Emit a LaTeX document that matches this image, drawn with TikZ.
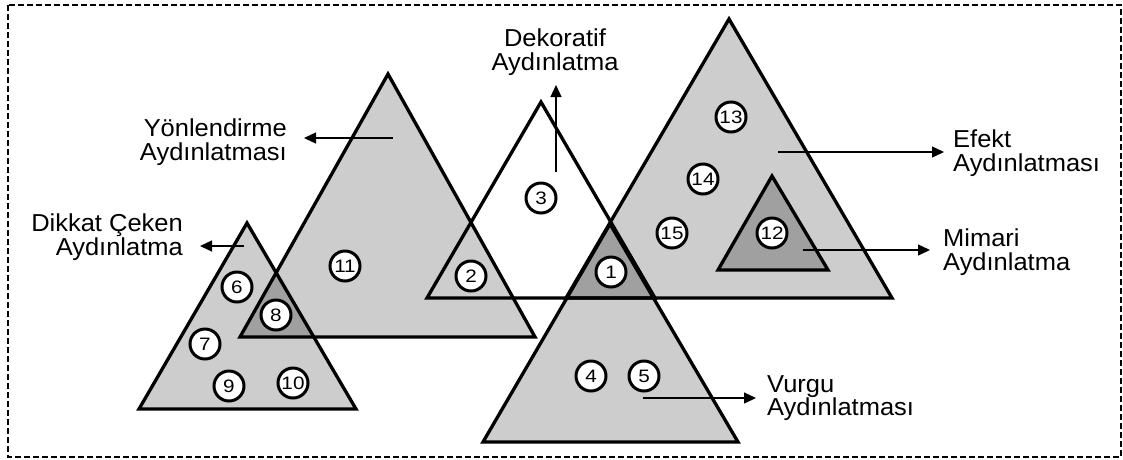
\documentclass[tikz,border=0pt]{standalone}
\usepackage{fontspec}
\setmainfont{Liberation Sans}
\newfontfamily\labfont[FakeStretch=1.04]{Liberation Sans}
\newfontfamily\numfont[FakeStretch=1.15]{Liberation Sans}
\usetikzlibrary{arrows.meta}
\definecolor{lg}{RGB}{205,205,205}
\definecolor{dg}{RGB}{160,160,160}
\begin{document}
\begin{tikzpicture}[x=1pt,y=-1pt,
  tri/.style={draw=black, line width=3.3pt, line join=miter},
  num/.style={circle, draw=black, line width=3pt, fill=white, minimum size=30pt, inner sep=0pt,
    font=\numfont\fontsize{18}{18}\selectfont},
  lab/.style={inner sep=0pt, font=\labfont\fontsize{24.5}{23.5}\selectfont},
  arr/.style={-{Triangle[length=12pt,width=11pt]}, line width=1.3pt}]
\useasboundingbox (0,0) rectangle (1123,459);
\draw[line width=2pt, dash pattern=on 6pt off 3pt] (8,5) rectangle (1121,457);

% triangle corners
\coordinate (A1) at (247,223); \coordinate (A2) at (139,409); \coordinate (A3) at (356,409);
\coordinate (B1) at (388,74);  \coordinate (B2) at (240,337); \coordinate (B3) at (535,337);
\coordinate (C1) at (541,102); \coordinate (C2) at (427,298); \coordinate (C3) at (655,298);
\coordinate (D1) at (729,19);  \coordinate (D2) at (566,298); \coordinate (D3) at (892,298);
\coordinate (E1) at (772,176); \coordinate (E2) at (718,270); \coordinate (E3) at (828,270);
\coordinate (F1) at (610,224); \coordinate (F2) at (483,442); \coordinate (F3) at (738,442);

% fills
\fill[white] (C1) -- (C2) -- (C3) -- cycle;
\fill[lg] (A1) -- (A2) -- (A3) -- cycle;
\fill[lg] (B1) -- (B2) -- (B3) -- cycle;
\fill[lg] (D1) -- (D2) -- (D3) -- cycle;
\fill[lg] (F1) -- (F2) -- (F3) -- cycle;
\fill[dg] (E1) -- (E2) -- (E3) -- cycle;
\begin{scope}
  \clip (B1) -- (B2) -- (B3) -- cycle;
  \fill[dg] (A1) -- (A2) -- (A3) -- cycle;
\end{scope}
\begin{scope}
  \clip (400,0) rectangle (800,298);
  \fill[dg] (F1) -- (F2) -- (F3) -- cycle;
\end{scope}

% outlines
\draw[tri] (A1) -- (A2) -- (A3) -- cycle;
\draw[tri] (B1) -- (B2) -- (B3) -- cycle;
\draw[tri] (C1) -- (C2) -- (C3) -- cycle;
\draw[tri] (D1) -- (D2) -- (D3) -- cycle;
\draw[tri] (E1) -- (E2) -- (E3) -- cycle;
\draw[tri] (F1) -- (F2) -- (F3) -- cycle;

% numbered circles
\node[num] (n1)  at (611,272) {1};
\node[num] (n2)  at (471,276) {2};
\node[num] (n3)  at (541,198) {3};
\node[num] (n4)  at (591,376) {4};
\node[num] (n5)  at (644,376) {5};
\node[num] (n6)  at (237,287) {6};
\node[num] (n7)  at (205,344) {7};
\node[num] (n8)  at (276,315) {8};
\node[num] (n9)  at (229,386) {9};
\node[num] (n10) at (293,383) {10};
\node[num] (n11) at (345,266) {11};
\node[num] (n12) at (772,233) {12};
\node[num] (n13) at (731,117) {13};
\node[num] (n14) at (703,179) {14};
\node[num] (n15) at (672,233) {15};

% labels
\node[lab, anchor=north east, align=right] (yon) at (287,119) {Yönlendirme\\Aydınlatması};
\node[lab, anchor=north east, align=right] (dik) at (183,214) {Dikkat Çeken\\Aydınlatma};
\node[lab, anchor=north, align=center] (dek) at (555,29) {Dekoratif\\Aydınlatma};
\node[lab, anchor=north west, align=left] (efe) at (953,130) {Efekt\\Aydınlatması};
\node[lab, anchor=north west, align=left] (mim) at (943,229) {Mimari\\Aydınlatma};
\node[lab, anchor=north west, align=left] (vur) at (767,375) {Vurgu\\Aydınlatması};

% arrows
\coordinate (yonS) at (393,138); \coordinate (yonT) at (304,138);
\coordinate (dikS) at (244,246); \coordinate (dikT) at (200,246);
\coordinate (dekS) at (556,172); \coordinate (dekT) at (556,85);
\coordinate (efeS) at (778,152); \coordinate (efeT) at (944,152);
\coordinate (mimS) at (803,250); \coordinate (mimT) at (930,250);
\coordinate (vurS) at (643,398); \coordinate (vurT) at (756,398);
\draw[arr] (yonS) -- (yonT);
\draw[arr] (dikS) -- (dikT);
\draw[arr] (dekS) -- (dekT);
\draw[arr] (efeS) -- (efeT);
\draw[arr] (mimS) -- (mimT);
\draw[arr] (vurS) -- (vurT);
\end{tikzpicture}
\end{document}
